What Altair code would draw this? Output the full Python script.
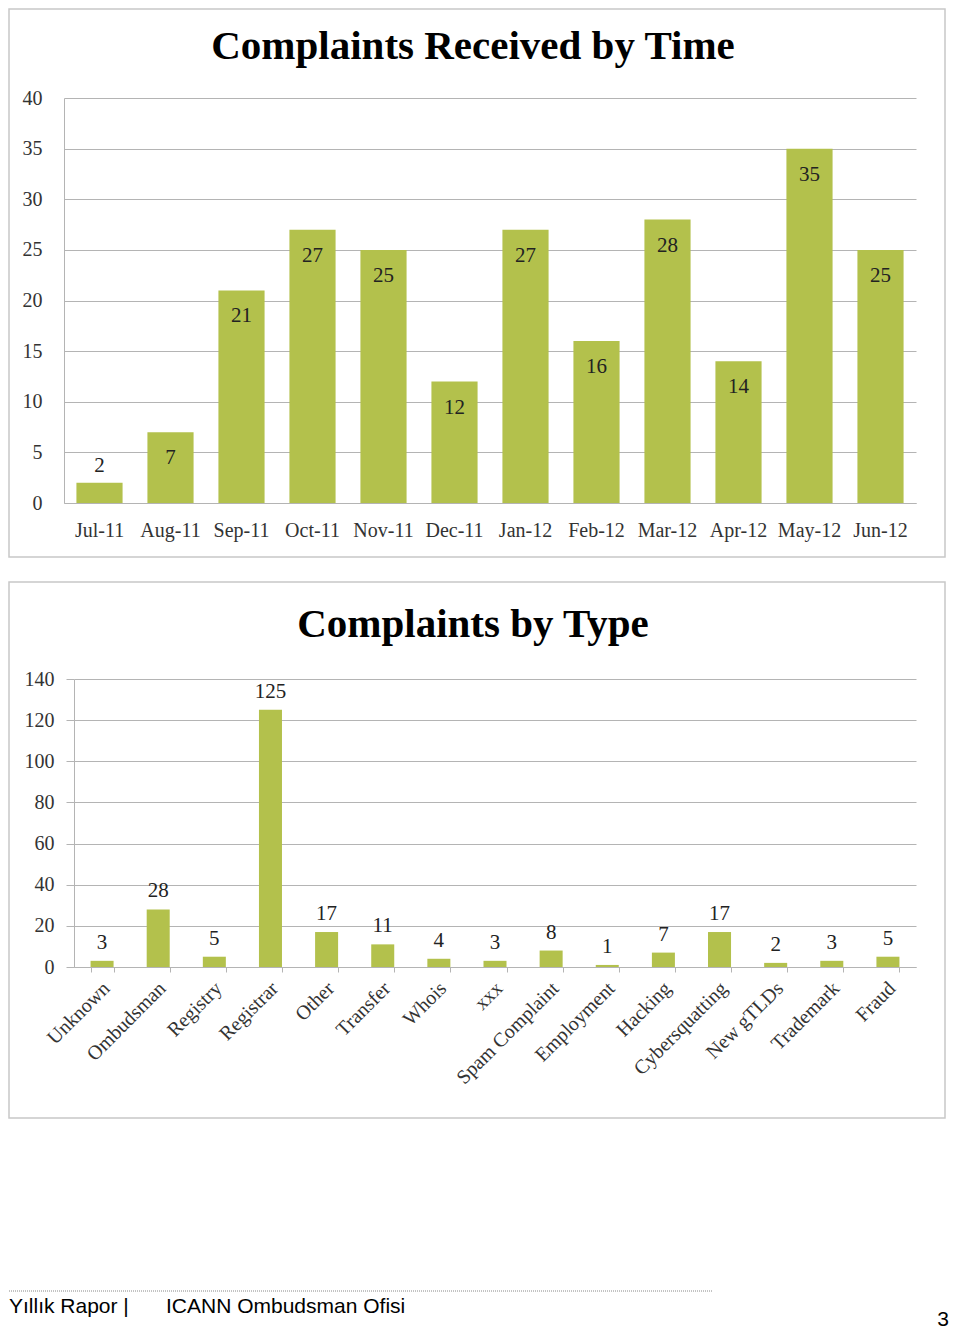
import altair as alt
import pandas as pd

# ---- data ----
months = ["Jul-11", "Aug-11", "Sep-11", "Oct-11", "Nov-11", "Dec-11",
          "Jan-12", "Feb-12", "Mar-12", "Apr-12", "May-12", "Jun-12"]
month_counts = [2, 7, 21, 27, 25, 12, 27, 16, 28, 14, 35, 25]

types = ["Unknown", "Ombudsman", "Registry", "Registrar", "Other", "Transfer",
         "Whois", "xxx", "Spam Complaint", "Employment", "Hacking",
         "Cybersquatting", "New gTLDs", "Trademark", "Fraud"]
type_counts = [3, 28, 5, 125, 17, 11, 4, 3, 8, 1, 7, 17, 2, 3, 5]

time_ticks = [0, 5, 10, 15, 20, 25, 30, 35, 40]
type_ticks = [0, 20, 40, 60, 80, 100, 120, 140]

title_time = "Complaints Received by Time"
title_type = "Complaints by Type"
footer_left = "Yıllık Rapor |"
footer_mid = "ICANN Ombudsman Ofisi"
page_number = "3"

# ---- style ----
FONT = "Liberation Serif"
SANS = "Liberation Sans"
BAR = "#b3c14c"
GRID = "#b4b4b4"
FRAME = "#c8c8c8"
LABEL = "#333333"

one = pd.DataFrame({"k": [0]})

# ---- top chart ----
df1 = pd.DataFrame({"month": months, "count": month_counts})
base1 = alt.Chart(df1).encode(
    x=alt.X("month:N", sort=months, title=None,
            scale=alt.Scale(paddingInner=0.35, paddingOuter=0.175),
            axis=alt.Axis(labelAngle=0, ticks=False, labelPadding=17,
                          domainColor=GRID, labelFont=FONT, labelFontSize=20,
                          labelColor=LABEL)),
    y=alt.Y("count:Q", title=None,
            scale=alt.Scale(domain=[0, 40], nice=False),
            axis=alt.Axis(values=time_ticks, ticks=False, labelPadding=22,
                          grid=True, gridColor=GRID, domainColor=GRID,
                          labelFont=FONT, labelFontSize=20, labelColor=LABEL)),
)
bars1 = base1.mark_bar(color=BAR)
lab1_in = base1.mark_text(font=FONT, fontSize=21, color="#222222", baseline="middle", dy=26).encode(
    text="count:Q").transform_filter("datum.count >= 5")
lab1_out = base1.mark_text(font=FONT, fontSize=21, color="#222222", baseline="middle", dy=-17).encode(
    text="count:Q").transform_filter("datum.count < 5")
frame1 = alt.Chart(one).mark_rect(fillOpacity=0, stroke=FRAME, strokeWidth=1.5).encode(
    x=alt.value(-55), x2=alt.value(881), y=alt.value(-89), y2=alt.value(459))
title1 = alt.Chart(one).mark_text(font=FONT, fontSize=41, fontWeight="bold", color="#000000",
                                  align="center", baseline="alphabetic").encode(
    x=alt.value(409), y=alt.value(-39), text=alt.value(title_time))

top = alt.layer(frame1, title1, bars1, lab1_in, lab1_out).properties(width=852, height=405)

# ---- bottom chart ----
df2 = pd.DataFrame({"type": types, "count": type_counts})
base2 = alt.Chart(df2).encode(
    x=alt.X("type:N", sort=types, title=None,
            scale=alt.Scale(paddingInner=0.59, paddingOuter=0.295, range=[10, 852]),
            axis=alt.Axis(labelAngle=-45, labelBaseline="middle", labelAlign="right",
                          tickBand="extent", ticks=True, tickSize=5,
                          tickColor=GRID, domainColor=GRID, labelPadding=13, labelOffset=4,
                          labelFont=FONT, labelFontSize=20, labelColor=LABEL)),
    y=alt.Y("count:Q", title=None,
            scale=alt.Scale(domain=[0, 140], nice=False),
            axis=alt.Axis(values=type_ticks, ticks=True, tickSize=8, tickColor=GRID, offset=-10,
                          labelPadding=12, grid=True, gridColor=GRID, domainColor=GRID,
                          labelFont=FONT, labelFontSize=20, labelColor=LABEL)),
)
bars2 = base2.mark_bar(color=BAR)
lab2 = base2.mark_text(font=FONT, fontSize=21, color="#222222", baseline="middle", dy=-18).encode(
    text="count:Q")
frame2 = alt.Chart(one).mark_rect(fillOpacity=0, stroke=FRAME, strokeWidth=1.5).encode(
    x=alt.value(-55), x2=alt.value(881), y=alt.value(-97), y2=alt.value(439))
title2 = alt.Chart(one).mark_text(font=FONT, fontSize=41, fontWeight="bold", color="#000000",
                                  align="center", baseline="alphabetic").encode(
    x=alt.value(409), y=alt.value(-42), text=alt.value(title_type))

bottom = alt.layer(frame2, title2, bars2, lab2).properties(width=852, height=288)

# ---- footer ----
foot = alt.Chart(one)
f_rule = foot.mark_rule(color="#888888", strokeDash=[1, 1], strokeWidth=1).encode(
    x=alt.value(-55), x2=alt.value(649), y=alt.value(149))
f_left = foot.mark_text(align="left", baseline="middle", font=SANS, fontSize=21, color="#000000").encode(
    x=alt.value(-55), y=alt.value(165), text=alt.value(footer_left))
f_mid = foot.mark_text(align="left", baseline="middle", font=SANS, fontSize=21, color="#000000").encode(
    x=alt.value(102), y=alt.value(165), text=alt.value(footer_mid))
f_page = foot.mark_text(align="right", baseline="middle", font=SANS, fontSize=21, color="#000000").encode(
    x=alt.value(885), y=alt.value(178), text=alt.value(page_number))
footer = alt.layer(f_rule, f_left, f_mid, f_page).properties(width=852, height=184)

chart = alt.concat(top, bottom, footer, columns=1, spacing=23, align="none", padding=0,
                   background="white").configure_view(stroke="transparent", strokeWidth=0)

chart.save("out.html", embed_options={"renderer": "svg", "actions": False})
